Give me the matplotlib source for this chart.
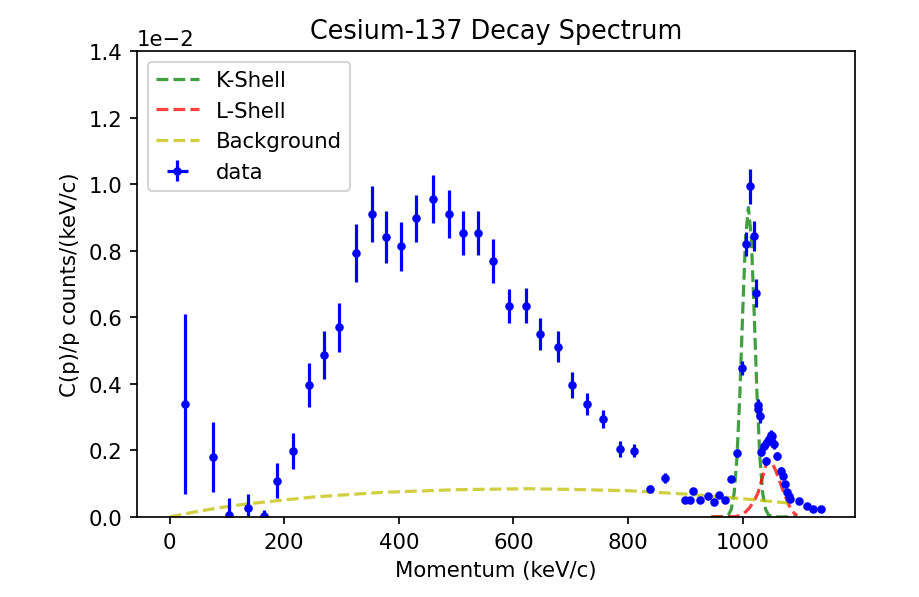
import matplotlib
matplotlib.use('Agg')
import matplotlib.pyplot as plt
import numpy as np

# measured spectrum (counts values in units of 1e-3)
momentum = [26, 76, 104, 137, 164, 187, 216, 243, 270, 295, 325, 353, 377, 404, 430,
            459, 487, 512, 538, 565, 593, 621, 647, 677, 703, 729, 756, 786, 811, 839,
            864, 900, 908, 913, 925, 939, 950, 958, 969, 980, 990, 999, 1006.5, 1013,
            1020, 1023, 1026, 1027.5, 1030, 1031.5, 1037, 1040, 1042, 1046, 1049, 1052,
            1055, 1060, 1066.5, 1070, 1074, 1077, 1080, 1083, 1099, 1113, 1122, 1137]
counts = [3.39, 1.79, 0.07, 0.26, 0.03, 1.09, 1.97, 3.97, 4.87, 5.70, 7.93, 9.10, 8.40, 8.13, 8.97,
          9.55, 9.10, 8.53, 8.53, 7.69, 6.34, 6.35, 5.50, 5.12, 3.97, 3.39, 2.94, 2.04, 1.99, 0.85,
          1.17, 0.51, 0.51, 0.79, 0.51, 0.64, 0.46, 0.66, 0.51, 1.14, 1.92, 4.48, 8.20, 9.93,
          8.45, 6.73, 3.24, 3.36, 3.02, 1.96, 2.14, 1.69, 2.24, 2.34, 2.46, 2.42,
          2.19, 1.82, 1.39, 1.24, 0.99, 0.74, 0.64, 0.54, 0.48, 0.34, 0.25, 0.25]
counts_err = [2.70, 1.05, 0.50, 0.43, 0.17, 0.52, 0.54, 0.66, 0.73, 0.73, 0.87, 0.85, 0.78, 0.74, 0.71,
              0.72, 0.72, 0.65, 0.65, 0.67, 0.52, 0.52, 0.47, 0.46, 0.39, 0.33, 0.27, 0.25, 0.20, 0.10,
              0.14, 0.06, 0.06, 0.08, 0.06, 0.07, 0.06, 0.07, 0.06, 0.10, 0.13, 0.22, 0.35, 0.52,
              0.45, 0.42, 0.20, 0.20, 0.20, 0.13, 0.14, 0.12, 0.14, 0.14, 0.15, 0.14,
              0.14, 0.12, 0.10, 0.10, 0.09, 0.07, 0.07, 0.07, 0.06, 0.05, 0.05, 0.05]
momentum_err = [2.0] * len(momentum)

# fitted components (units of 1e-3)
k_x = [945, 965, 975, 980, 985, 990, 995, 1000, 1005, 1010, 1015, 1020, 1025, 1030,
       1035, 1040, 1045, 1055, 1095]
k_y = [0.0, 0.004, 0.06, 0.23, 0.70, 1.78, 3.67, 6.15, 8.39, 9.30, 8.39, 6.15, 3.67, 1.78,
       0.70, 0.23, 0.06, 0.004, 0.0]

l_x = [945, 985, 995, 1005, 1012, 1020, 1027, 1035, 1043, 1050, 1058, 1065, 1072, 1080,
       1087, 1095]
l_y = [0.0, 0.01, 0.04, 0.15, 0.28, 0.48, 0.74, 1.22, 1.72, 1.68, 1.38, 1.05, 0.72, 0.38,
       0.16, 0.04]

bg_x = [0, 20, 40, 80, 120, 160, 250, 370, 500, 620, 700, 800, 900, 1000, 1085]
bg_y = [0.0, 0.07, 0.14, 0.26, 0.36, 0.44, 0.60, 0.74, 0.82, 0.85, 0.83, 0.79, 0.69, 0.55, 0.41]

scale = 1e-3

fig = plt.figure(figsize=(6.0, 3.9), dpi=153.33)
ax = fig.add_axes([137 / 920, 80 / 598, 718 / 920, 466 / 598])

ax.plot(k_x, np.array(k_y) * scale, 'g--', alpha=0.75, label='K-Shell')
ax.plot(l_x, np.array(l_y) * scale, 'r--', alpha=0.75, label='L-Shell')
ax.plot(bg_x, np.array(bg_y) * scale, 'y--', alpha=0.75, label='Background')
ax.errorbar(momentum, np.array(counts) * scale, yerr=np.array(counts_err) * scale,
            xerr=momentum_err, fmt='b.', label='data')

ax.set_ylim(0, 0.014)
ax.ticklabel_format(axis='y', style='sci', scilimits=(0, 0))
ax.set_title('Cesium-137 Decay Spectrum')
ax.set_xlabel('Momentum (keV/c)')
ax.set_ylabel('C(p)/p counts/(keV/c)')
ax.legend(loc='upper left')

plt.savefig('out.png')
